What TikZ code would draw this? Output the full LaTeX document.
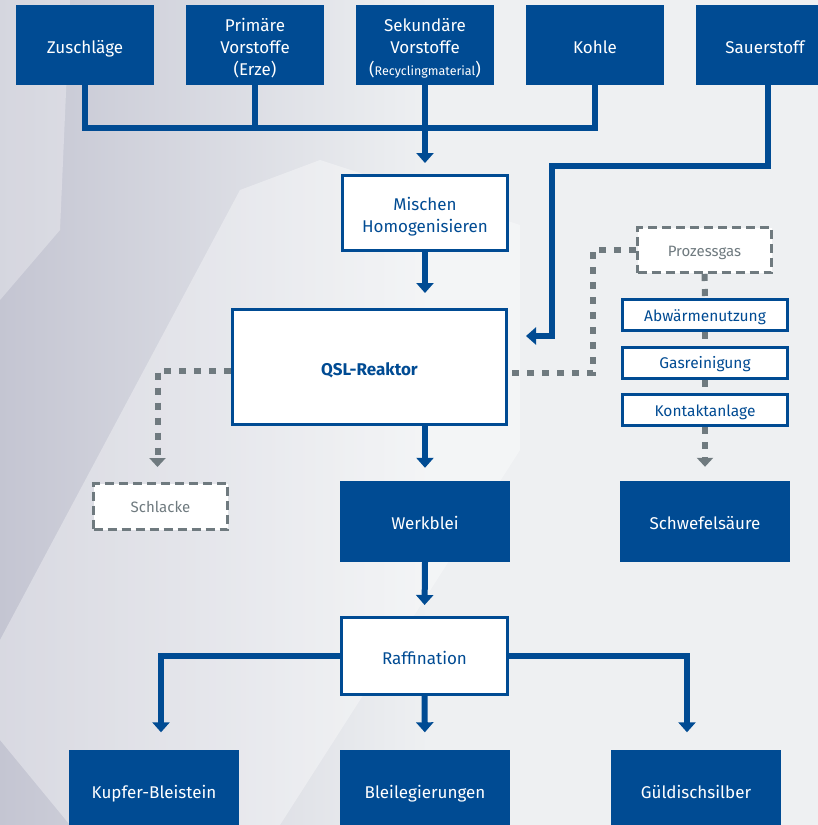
\documentclass[tikz,border=0pt]{standalone}
\usepackage{fontspec}
\setmainfont{Fira Sans}
\usepackage{tikz}
\usetikzlibrary{arrows.meta,positioning,calc}
\definecolor{qslblue}{HTML}{004B93}
\definecolor{gasgrey}{HTML}{6F7A7F}
\definecolor{bglight}{HTML}{EEF0F2}
\definecolor{bgdark}{HTML}{C4C5D2}

\begin{document}
\begin{tikzpicture}[x=1pt, y=-1pt, font=\fontsize{17}{22}\selectfont]
  \tikzstyle{feed}=[fill=qslblue, text=white, minimum width=138pt, minimum height=80pt, inner sep=0pt, align=center]
  \tikzstyle{product}=[fill=qslblue, text=white, minimum width=170pt, minimum height=81pt, inner sep=0pt, align=center]
  \tikzstyle{stage}=[draw=qslblue, line width=3pt, fill=white, text=qslblue, inner sep=0pt, align=center]
  \tikzstyle{gasstep}=[stage, minimum width=165pt, minimum height=31pt, font=\fontsize{15.5}{18}\selectfont, text height=12pt, text depth=0pt]
  \tikzstyle{byproduct}=[draw=gasgrey, line width=3pt, dash pattern=on 9pt off 5pt, fill=white, text=gasgrey, minimum width=134pt, minimum height=46pt, inner sep=0pt, font=\fontsize{15}{18}\selectfont, text height=12pt, text depth=0pt]
  \tikzstyle{oneline}=[text height=16pt, text depth=0pt]
  \tikzstyle{flow}=[draw=qslblue, line width=6pt]
  \tikzstyle{flowarr}=[flow, -{Triangle[width=17pt,length=10pt]}]
  \tikzstyle{gasflow}=[draw=gasgrey, line width=6pt, dash pattern=on 7pt off 8pt]
  \tikzstyle{gasarr}=[gasflow, -{Triangle[width=16pt,length=9pt]}]

  \useasboundingbox (0,0) rectangle (818,825);
  \clip (0,0) rectangle (818,825);
  \fill[bglight] (0,0) rectangle (818,825);
  \shade[left color=bgdark, right color=bglight] (0,0) rectangle (430,825);
  \fill[white, opacity=0.35] (240,190) -- (320,160) -- (520,225) -- (520,450) -- (280,825) -- (70,825) -- (0,740) -- (0,640) -- cycle;
  \fill[white, opacity=0.3] (0,0) -- (70,0) -- (60,230) -- (0,300) -- cycle;

  \node[feed, oneline] (zu) at (85,45) {Zuschläge};
  \node[feed, text height=64pt, text depth=4pt] (prim) at (255,45) {Primäre\\Vorstoffe\\(Erze)};
  \node[feed, text height=64pt, text depth=4pt] (sek) at (425,45) {Sekundäre\\Vorstoffe\\(\fontsize{12.5}{22}\selectfont Recyclingmaterial\fontsize{17}{22}\selectfont)};
  \node[feed, oneline] (kohle) at (595,45) {Kohle};
  \node[feed, oneline] (sauer) at (765,45) {Sauerstoff};

  \node[stage, minimum width=165pt, minimum height=75pt, text height=42pt, text depth=4pt] (mix) at (425,213) {Mischen\\Homogenisieren};
  \node[stage, oneline, minimum width=274pt, minimum height=115pt, font=\fontsize{17}{22}\selectfont\bfseries] (qsl) at (369.5,367) {QSL-Reaktor};
  \node[product, oneline] (werk) at (425,521.5) {Werkblei};
  \node[stage, oneline, minimum width=166pt, minimum height=77pt] (raff) at (424.5,656) {Raffination};

  \node[byproduct] (schl) at (160.5,506.5) {Schlacke};
  \node[byproduct, minimum height=45pt] (proz) at (704.5,250) {Prozessgas};
  \node[gasstep] (abw) at (705,315) {Abwärmenutzung};
  \node[gasstep] (gasr) at (705,362.5) {Gasreinigung};
  \node[gasstep] (kont) at (705,410) {Kontaktanlage};
  \node[product, oneline] (schwefel) at (705,521.5) {Schwefelsäure};

  \node[product, oneline] (kupfer) at (154,790) {Kupfer-Bleistein};
  \node[product, oneline] (blei) at (425,790) {Bleilegierungen};
  \node[product, oneline] (guld) at (696,790) {Güldischsilber};

  \coordinate (bus) at (0,128);
  \draw[flow] (zu.south) |- (bus -| kohle.south) -- (kohle.south);
  \draw[flow] (prim.south) -- (prim.south |- bus);
  \draw[flowarr, shorten >=11pt] (sek.south) -- (mix.north);
  \draw[flowarr, shorten >=15pt] (mix.south) -- (mix.south |- qsl.north);
  \coordinate (o2) at (552,166);
  \draw[flowarr, shorten >=18pt] ([xshift=3pt]sauer.south) |- (o2) |- ([yshift=31pt]qsl.east);
  \draw[flowarr, shorten >=13pt] (qsl.south -| werk.north) -- (werk.north);
  \draw[flowarr, shorten >=11pt] (werk.south) -- (raff.north);
  \draw[flowarr, shorten >=17pt] (raff.west) -| ([xshift=7pt]kupfer.north);
  \draw[flowarr, shorten >=17pt] (raff.east) -| ([xshift=-9pt]guld.north);
  \draw[flowarr, shorten >=17pt] (raff.south) -- (blei.north);

  \coordinate (gasturn) at (593,373);
  \draw[gasflow] (proz.west) -| (gasturn) -- (gasturn -| qsl.east);
  \draw[gasflow] (proz.south) -- (abw.north);
  \draw[gasflow] (abw.south) -- (gasr.north);
  \draw[gasflow] (gasr.south) -- (kont.north);
  \draw[gasarr, shorten >=14pt] (kont.south) -- (schwefel.north);
  \draw[gasarr, shorten >=15pt] ([yshift=-4pt]qsl.west) -| ([xshift=-3pt]schl.north);
\end{tikzpicture}
\end{document}
